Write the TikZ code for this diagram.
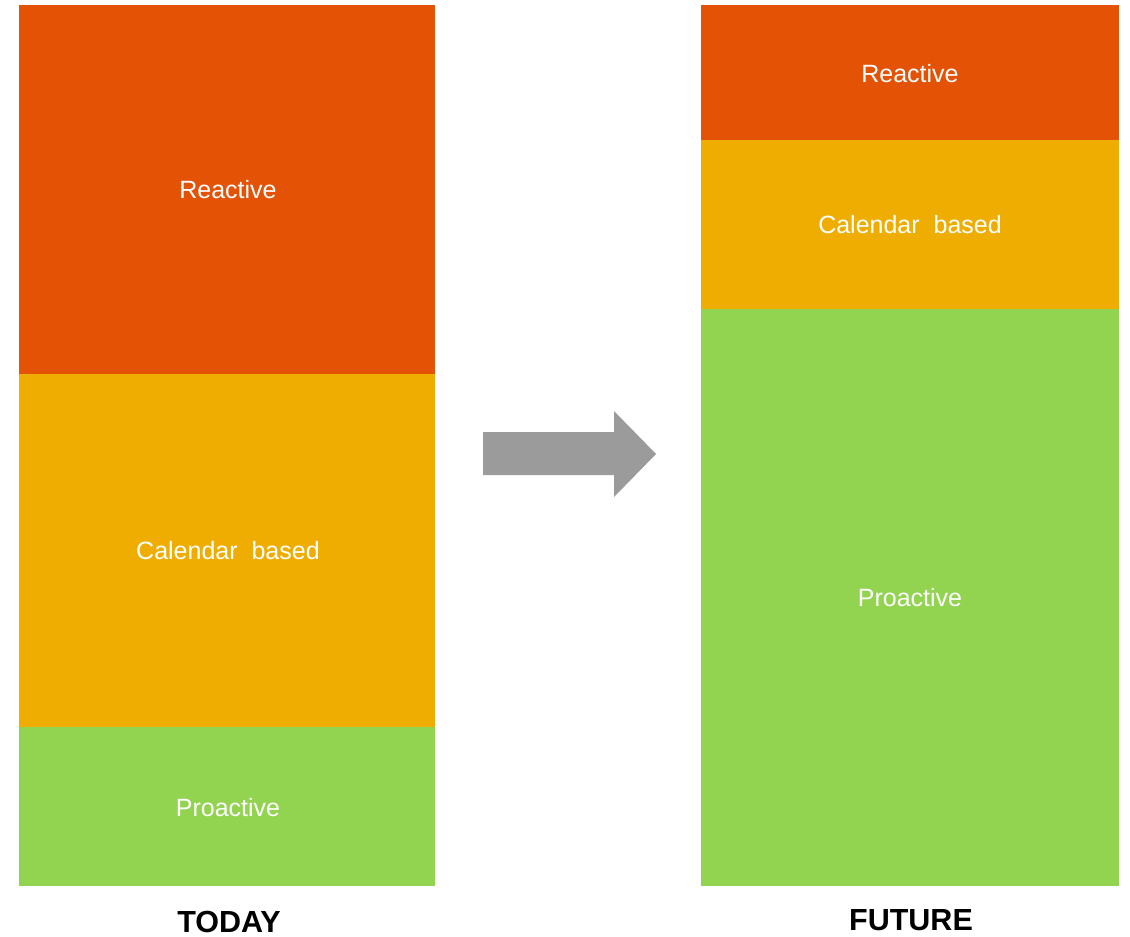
\documentclass[tikz,border=0pt]{standalone}
\usepackage{fontspec}
\setmainfont{Liberation Sans}
\definecolor{cred}{HTML}{E35205}
\definecolor{cyel}{HTML}{EEAD00}
\definecolor{cgrn}{HTML}{92D350}
\definecolor{cgray}{HTML}{9B9B9B}
\begin{document}
\begin{tikzpicture}[x=1pt,y=-1pt,
  seg/.style={draw=none,inner sep=0pt,text=white,font=\fontsize{25}{28}\selectfont},
  captxt/.style={inner sep=0pt,font=\bfseries\fontsize{30.5}{33}\selectfont}]
\useasboundingbox[fill=white] (0,0) rectangle (1130,937);
% left column
\fill[cred] (19,5) rectangle (435,374);
\fill[cyel] (19,374) rectangle (435,727);
\fill[cgrn] (19,727) rectangle (435,886);
\node[seg] (lr) at (228,190) {Reactive};
\node[seg] (lc) at (228,551) {Calendar\hspace{7pt} based};
\node[seg] (lp) at (228,808) {Proactive};
% right column
\fill[cred] (701,5) rectangle (1119,140);
\fill[cyel] (701,140) rectangle (1119,309);
\fill[cgrn] (701,309) rectangle (1119,886);
\node[seg] (rr) at (910,74) {Reactive};
\node[seg] (rc) at (910,225) {Calendar\hspace{7pt} based};
\node[seg] (rp) at (910,598) {Proactive};
% arrow
\fill[cgray] (483,432) -- (614,432) -- (614,411) -- (656,454) -- (614,497) -- (614,475) -- (483,475) -- cycle;
% captions
\node[captxt] (today) at (229,922) {TODAY};
\node[captxt] (future) at (911,920) {FUTURE};
\end{tikzpicture}
\end{document}
